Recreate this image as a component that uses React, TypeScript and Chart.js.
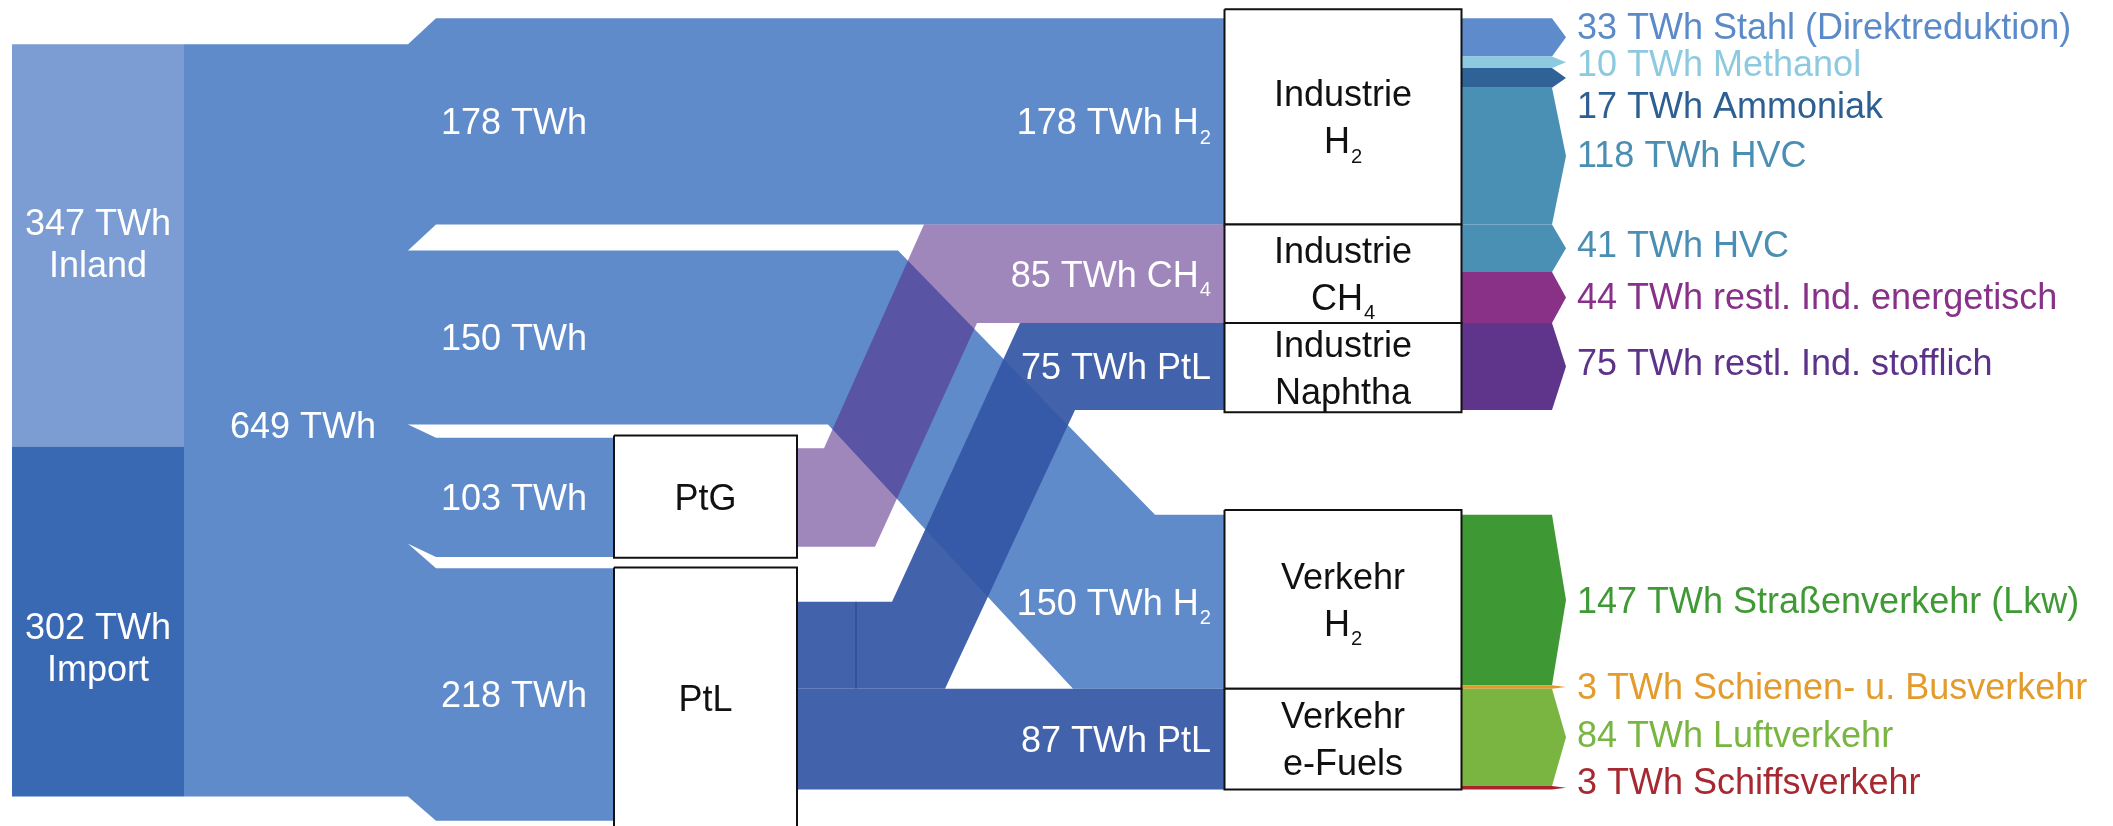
import React, { useEffect, useRef } from 'react';
import { Chart, registerables } from 'chart.js';

Chart.register(...registerables);

// ---------------- data (TWh) ----------------
const sourceNames = ['Inland', 'Import'];
const sourceValues = [347, 302];
const hubValue = 649;
const hubValues = [178, 150, 103, 218]; // -> Industrie H2, Verkehr H2, PtG, PtL
const ptgOutValue = 85; // CH4 -> Industrie CH4
const ptlOutValues = [75, 87]; // -> Industrie Naphtha, Verkehr e-Fuels
const convNames = ['PtG', 'PtL'];
const industrieNodeLines = [['Industrie', 'H_2'], ['Industrie', 'CH_4'], ['Industrie', 'Naphtha']];
const industrieInSuffix = ['H_2', 'CH_4', 'PtL'];
const verkehrNodeLines = [['Verkehr', 'H_2'], ['Verkehr', 'e-Fuels']];
const verkehrInSuffix = ['H_2', 'PtL'];
const indH2UseNames = ['Stahl (Direktreduktion)', 'Methanol', 'Ammoniak', 'HVC'];
const indH2UseValues = [33, 10, 17, 118];
const indCH4UseNames = ['HVC', 'restl. Ind. energetisch'];
const indCH4UseValues = [41, 44];
const indNaphthaUseNames = ['restl. Ind. stofflich'];
const indNaphthaUseValues = [75];
const verkH2UseNames = ['Straßenverkehr (Lkw)', 'Schienen- u. Busverkehr'];
const verkH2UseValues = [147, 3];
const verkFuelUseNames = ['Luftverkehr', 'Schiffsverkehr'];
const verkFuelUseValues = [84, 3];

// ---------------- layout & style ----------------
const W = 2113;
const H = 826;
const V_MIN = -38.2;
const V_MAX = 674.5;
const FONT = '"Liberation Sans", Arial, Helvetica, sans-serif';
const FS = 36;

const X = {
  srcL: 12, srcR: 184, splitA: 408, splitB: 436,
  convL: 614, convR: 797, boxL: 1224.5, boxR: 1461.5,
  arrowBase: 1552, arrowTip: 1566, seam: 856,
  outLabel: 1577, midLabel: 1211, leftLabel: 441, hubLabel: 230, srcLabel: 98,
};
const SPLIT_SHIFT = [-22.5, 0, 11.5, 21];
const VERKEHR_TOP = 406;
const PTL_OUT_TOP = 481;
const BEND = {
  split: { ta: X.splitA, tb: X.splitB, ba: X.splitA, bb: X.splitB },
  h2Verkehr: { ta: 898, tb: 1155, ba: 828, bb: 1073 },
  ch4: { ta: 824, tb: 924, ba: 875, bb: 977 },
  naphtha: { ta: 892, tb: 1020, ba: 945, bb: 1075 },
};
const SRC_LABEL_NUDGE = [-2, 22];
const OUT_LABEL_V = [-16, 16.4, 52.4, 94.6, 172.3, 216.9, 274.4, 479.4, 553.4, 595.1, 635.4];

const C = {
  inland: '#7b9dd4', import: '#3a69b3', h2: '#5f8bcb',
  ch4: 'rgba(86,43,136,0.57)', ptl: 'rgba(53,87,165,0.935)', ptlSolid: '#4262ab',
  seam: 'rgba(35,65,130,0.55)',
};
const USE_COLORS = [
  ['#5e8bcb', '#8ecadf', '#2f6398', '#4a90b5'],
  ['#4a90b5', '#883187'],
  ['#5f358b'],
  ['#3e9833', '#e19b2b'],
  ['#7ab541', '#a8242c'],
];
const LABEL_COLORS = [
  ['#5b8ac9', '#8ecadf', '#2d5f92', '#4a8fb3'],
  ['#4a8fb3', '#88318a'],
  ['#5d338a'],
  ['#3f9a35', '#e39c2c'],
  ['#78b541', '#a62830'],
];

type P = { x: number; y: number };
const rect = (x0: number, x1: number, v0: number, v1: number): P[] => [
  { x: x0, y: v0 }, { x: x1, y: v0 }, { x: x1, y: v1 }, { x: x0, y: v1 },
];
const closed = (pts: P[]) => [...pts, pts[0]];
function band(xs: number, vs: number, xt: number, vt: number, t: number, b?: any): P[] {
  if (!b) return [{ x: xs, y: vs }, { x: xt, y: vt }, { x: xt, y: vt + t }, { x: xs, y: vs + t }];
  return [
    { x: xs, y: vs }, { x: b.ta, y: vs }, { x: b.tb, y: vt }, { x: xt, y: vt },
    { x: xt, y: vt + t }, { x: b.bb, y: vt + t }, { x: b.ba, y: vs + t }, { x: xs, y: vs + t },
  ];
}
const arrow = (v0: number, t: number): P[] => [
  { x: X.boxR, y: v0 }, { x: X.arrowBase, y: v0 }, { x: X.arrowTip, y: v0 + t / 2 },
  { x: X.arrowBase, y: v0 + t }, { x: X.boxR, y: v0 + t },
];
const cum = (start: number, vals: number[]) => {
  const out: number[] = [];
  let a = start;
  vals.forEach((v) => { out.push(a); a += v; });
  return out;
};

function buildScene() {
  const datasets: any[] = [];
  const texts: any[] = [];
  const add = (pts: P[], color: string, extra: any = {}) => {
    datasets.push({
      data: pts, backgroundColor: color, borderColor: color, borderWidth: 0,
      fill: 'shape', pointRadius: 0, pointHoverRadius: 0, tension: 0, ...extra,
    });
  };
  const addBox = (pts: P[]) => add(closed(pts), '#ffffff', { borderColor: '#111111', borderWidth: 2, borderJoinStyle: 'miter' });

  // sources
  const srcTops = cum(0, sourceValues);
  const srcColors = [C.inland, C.import];
  sourceValues.forEach((v, i) => {
    add(rect(X.srcL, X.srcR, srcTops[i], srcTops[i] + v), srcColors[i]);
    texts.push({ x: X.srcLabel, v: srcTops[i] + v / 2 + SRC_LABEL_NUDGE[i], lines: [`${v} TWh`, sourceNames[i]], align: 'center', color: '#ffffff', gap: 42.5 });
  });
  // hub block
  add(rect(X.srcR, X.splitA, 0, hubValue), C.h2);
  texts.push({ x: X.hubLabel, v: hubValue / 2 + 4, text: `${hubValue} TWh`, align: 'left', color: '#ffffff' });

  const hubStarts = cum(0, hubValues);
  const afterTops = hubStarts.map((s, i) => s + SPLIT_SHIFT[i]);
  const indValues = [hubValues[0], ptgOutValue, ptlOutValues[0]];
  const indTops = cum(afterTops[0], indValues);
  const verValues = [hubValues[1], ptlOutValues[1]];
  const verTops = cum(VERKEHR_TOP, verValues);
  const ptgOutTop = afterTops[2] + (hubValues[2] - ptgOutValue) / 2;

  // hub flows
  add(band(X.splitA, hubStarts[0], X.boxL, indTops[0], hubValues[0], BEND.split), C.h2);
  add(band(X.splitA, hubStarts[1], X.boxL, verTops[0], hubValues[1], BEND.h2Verkehr), C.h2);
  add(band(X.splitA, hubStarts[2], X.convL, afterTops[2], hubValues[2], BEND.split), C.h2);
  add(band(X.splitA, hubStarts[3], X.convL, afterTops[3], hubValues[3], BEND.split), C.h2);
  hubValues.forEach((v, i) => {
    const vv = i === 1 ? hubStarts[1] + v / 2 : afterTops[i] + v / 2;
    texts.push({ x: X.leftLabel, v: vv, text: `${v} TWh`, align: 'left', color: '#ffffff' });
  });

  // converter outputs
  add(band(X.convR, ptgOutTop, X.boxL, indTops[1], ptgOutValue, BEND.ch4), C.ch4);
  add(band(X.convR, PTL_OUT_TOP, X.boxL, indTops[2], ptlOutValues[0], BEND.naphtha), C.ptl);
  add(band(X.convR, PTL_OUT_TOP + ptlOutValues[0], X.boxL, verTops[1], ptlOutValues[1]), C.ptlSolid);
  // thin seam line inside the PtL -> Naphtha band
  datasets.push({
    data: [{ x: X.seam, y: PTL_OUT_TOP }, { x: X.seam, y: PTL_OUT_TOP + ptlOutValues[0] }],
    borderColor: C.seam, borderWidth: 1.5, fill: false, pointRadius: 0, pointHoverRadius: 0, tension: 0,
  });

  // end uses
  const groups = [
    { top: indTops[0], vals: indH2UseValues, names: indH2UseNames },
    { top: indTops[1], vals: indCH4UseValues, names: indCH4UseNames },
    { top: indTops[2], vals: indNaphthaUseValues, names: indNaphthaUseNames },
    { top: verTops[0], vals: verkH2UseValues, names: verkH2UseNames },
    { top: verTops[1], vals: verkFuelUseValues, names: verkFuelUseNames },
  ];
  let li = 0;
  groups.forEach((g, gi) => {
    const tops = cum(g.top, g.vals);
    g.vals.forEach((v, i) => {
      add(arrow(tops[i], v), USE_COLORS[gi][i]);
      texts.push({ x: X.outLabel, v: OUT_LABEL_V[li++], text: `${v} TWh ${g.names[i]}`, align: 'left', color: LABEL_COLORS[gi][i] });
    });
  });

  // boxes
  addBox(rect(X.convL, X.convR, afterTops[2] - 2, afterTops[2] + hubValues[2] + 0.5));
  addBox(rect(X.convL, X.convR, afterTops[3] - 0.5, afterTops[3] + hubValues[3] + 8));
  texts.push({ x: (X.convL + X.convR) / 2, v: afterTops[2] + hubValues[2] / 2, text: convNames[0], align: 'center', color: '#111111' });
  texts.push({ x: (X.convL + X.convR) / 2, v: afterTops[3] + hubValues[3] / 2 + 3, text: convNames[1], align: 'center', color: '#111111' });

  const indPad = [[7.7, 0], [0, 0], [0, 2]];
  indValues.forEach((v, i) => {
    const t = indTops[i] - indPad[i][0];
    const b = indTops[i] + v + indPad[i][1];
    addBox(rect(X.boxL, X.boxR, t, b));
    texts.push({ x: (X.boxL + X.boxR) / 2, v: (t + b) / 2, lines: industrieNodeLines[i], align: 'center', color: '#111111', gap: 47 });
    texts.push({ x: X.midLabel, v: indTops[i] + v / 2, text: `${v} TWh ${industrieInSuffix[i]}`, align: 'right', color: '#ffffff' });
  });
  const verPad = [[4.2, 0], [0, 0]];
  verValues.forEach((v, i) => {
    const t = verTops[i] - verPad[i][0];
    const b = verTops[i] + v + verPad[i][1];
    addBox(rect(X.boxL, X.boxR, t, b));
    texts.push({ x: (X.boxL + X.boxR) / 2, v: (t + b) / 2, lines: verkehrNodeLines[i], align: 'center', color: '#111111', gap: 47 });
    texts.push({ x: X.midLabel, v: verTops[i] + v / 2, text: `${v} TWh ${verkehrInSuffix[i]}`, align: 'right', color: '#ffffff' });
  });

  datasets.forEach((d, i) => { d.order = -i; });
  return { datasets, texts };
}

function drawRich(ctx: CanvasRenderingContext2D, text: string, x: number, y: number, align: string, size: number, color: string) {
  const parts = text.split(/_(\d+)/);
  const subSize = size * 0.56;
  const main = `${size}px ${FONT}`;
  const sub = `${subSize}px ${FONT}`;
  const widths = parts.map((p, i) => {
    ctx.font = i % 2 ? sub : main;
    return ctx.measureText(p).width + (i % 2 ? 1 : 0);
  });
  const total = widths.reduce((a, b) => a + b, 0);
  let cx = align === 'left' ? x : align === 'right' ? x - total : x - total / 2;
  const base = y + size * 0.358;
  ctx.fillStyle = color;
  ctx.textAlign = 'left';
  ctx.textBaseline = 'alphabetic';
  parts.forEach((p, i) => {
    ctx.font = i % 2 ? sub : main;
    ctx.fillText(p, cx + (i % 2 ? 1 : 0), i % 2 ? base + size * 0.26 : base);
    cx += widths[i];
  });
}

function makeLabelPlugin(texts: any[]) {
  return {
    id: 'sankeyLabels',
    afterDatasetsDraw(chart: any) {
      const ctx = chart.ctx as CanvasRenderingContext2D;
      const xs = chart.scales.x;
      const ys = chart.scales.y;
      ctx.save();
      texts.forEach((t) => {
        const px = xs.getPixelForValue(t.x);
        const py = ys.getPixelForValue(t.v);
        if (t.lines) {
          const n = t.lines.length;
          t.lines.forEach((ln: string, k: number) => {
            drawRich(ctx, ln, px, py + (k - (n - 1) / 2) * t.gap, t.align, FS, t.color);
          });
        } else {
          drawRich(ctx, t.text, px, py, t.align, FS, t.color);
        }
      });
      ctx.restore();
    },
  };
}

export default function App() {
  const ref = useRef<HTMLCanvasElement>(null);
  useEffect(() => {
    document.body.style.margin = '0';
    document.body.style.overflow = 'hidden';
    const canvas = ref.current;
    if (!canvas) return;
    const scene = buildScene();
    const chart = new Chart(canvas, {
      type: 'line',
      data: { datasets: scene.datasets },
      options: {
        animation: false,
        responsive: false,
        events: [],
        layout: { padding: 0 },
        plugins: { legend: { display: false }, tooltip: { enabled: false }, title: { display: false } },
        scales: {
          x: { type: 'linear', min: 0, max: W, display: false },
          y: { type: 'linear', min: V_MIN, max: V_MAX, reverse: true, display: false },
        },
      } as any,
      plugins: [makeLabelPlugin(scene.texts)],
    });
    return () => chart.destroy();
  }, []);
  return (
    <div style={{ position: 'absolute', left: 0, top: 0, width: W, height: H, background: '#ffffff', overflow: 'hidden' }}>
      <canvas ref={ref} width={W} height={H} style={{ display: 'block', width: W, height: H }} />
    </div>
  );
}
